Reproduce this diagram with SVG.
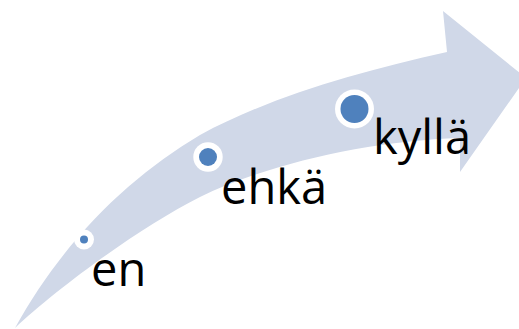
<svg xmlns="http://www.w3.org/2000/svg" width="519" height="329" viewBox="0 0 519 329">
  <style>
    .arrow { fill: #D0D8E8; }
    .ring { fill: #FFFFFF; }
    .dot { fill: #4F81BD; }
    .label { font-family: "Open Sans", "Liberation Sans", sans-serif; font-size: 47px; fill: #000000; }
  </style>
  <g id="arrow">
    <path class="arrow" d="M15,328 C65,238 130,177 200,135 C270,97 357,72 447,52 L443,11 L526,78 L460,172 L460,138 C370,141 270,163 200,197 C140,227 55,290 15,328 Z"/>
  </g>
  <g id="node-en">
    <circle class="ring" cx="84" cy="239.5" r="10"/>
    <circle class="dot" cx="84" cy="239.5" r="4"/>
    <text class="label" x="91" y="286">en</text>
  </g>
  <g id="node-ehka">
    <circle class="ring" cx="208" cy="157" r="14.7"/>
    <circle class="dot" cx="208" cy="157" r="9"/>
    <text class="label" x="221" y="204">ehkä</text>
  </g>
  <g id="node-kylla">
    <circle class="ring" cx="354.5" cy="109" r="19.5"/>
    <circle class="dot" cx="354.5" cy="109" r="14"/>
    <text class="label" x="373" y="154">kyllä</text>
  </g>
</svg>
